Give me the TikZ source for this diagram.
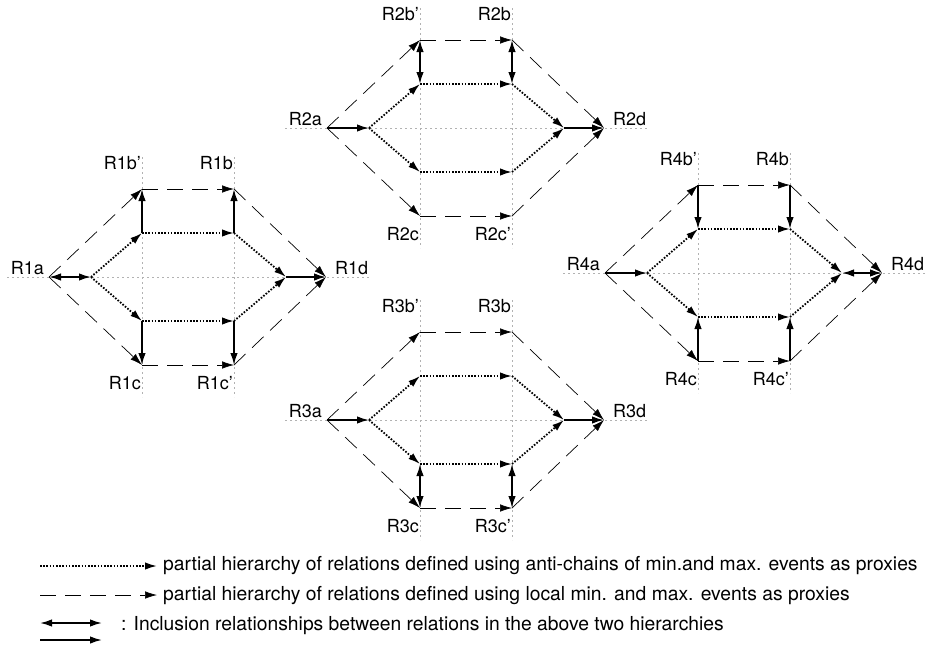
\documentclass[tikz,border=0pt]{standalone}
\usepackage{fontspec}
\setmainfont{TeX Gyre Heros}
\usetikzlibrary{arrows.meta}

\begin{document}
\begin{tikzpicture}[x=1pt,y=-1pt,>={Latex[length=12pt,width=7.5pt]},
  lbl/.style={inner sep=0pt,font=\fontsize{18}{18}\selectfont},
  legtext/.style={inner sep=0pt,anchor=west,font=\fontsize{19.3}{20}\selectfont},
  dashedge/.style={->,line width=0.7pt,dash pattern=on 16pt off 9pt},
  dotedge/.style={->,line width=1.8pt,dash pattern=on 1.6pt off 1.6pt},
  incl/.style={line width=1.7pt},
  guide/.style={black!30,line width=0.4pt,dash pattern=on 2pt off 3pt}]
\useasboundingbox (0,0) rectangle (930,645);
% the four hexagons: outer (dashed) and inner (dotted)
\foreach \i/\x/\y in {1/49/277,2/327/128,3/327/420,4/605/273}{
  \begin{scope}[shift={(\x,\y)}]
  \coordinate (a\i) at (0,0);
  \coordinate (bp\i) at (93,-88);
  \coordinate (b\i) at (185,-88);
  \coordinate (d\i) at (277,0);
  \coordinate (c\i) at (93,88);
  \coordinate (cp\i) at (185,88);
  \coordinate (ia\i) at (42,0);
  \coordinate (ibp\i) at (93,-44);
  \coordinate (ib\i) at (185,-44);
  \coordinate (id\i) at (237,0);
  \coordinate (ic\i) at (93,44);
  \coordinate (icp\i) at (185,44);
  \coordinate (gl\i) at (-42,0);
  \coordinate (gr\i) at (322,0);
  \coordinate (gbt\i) at (93,-120);
  \coordinate (gbb\i) at (93,120);
  \coordinate (gct\i) at (185,-120);
  \coordinate (gcb\i) at (185,120);
  \end{scope}
  \draw[guide] (gl\i) -- (gr\i);
  \draw[guide] (gbt\i) -- (gbb\i);
  \draw[guide] (gct\i) -- (gcb\i);
  \draw[dashedge] (a\i) -- (bp\i);
  \draw[dashedge] (bp\i) -- (b\i);
  \draw[dashedge] (b\i) -- (d\i);
  \draw[dashedge] (a\i) -- (c\i);
  \draw[dashedge] (c\i) -- (cp\i);
  \draw[dashedge] (cp\i) -- (d\i);
  \draw[dotedge] (ia\i) -- (ibp\i);
  \draw[dotedge] (ibp\i) -- (ib\i);
  \draw[dotedge] (ib\i) -- (id\i);
  \draw[dotedge] (ia\i) -- (ic\i);
  \draw[dotedge] (ic\i) -- (icp\i);
  \draw[dotedge] (icp\i) -- (id\i);
  \node[lbl,anchor=south east] (la\i) at ([xshift=-5pt,yshift=2pt]a\i) {R\i a};
  \node[lbl,anchor=south west] (ld\i) at ([xshift=9pt,yshift=2pt]d\i) {R\i d};
  \node[lbl,anchor=south east] (lbp\i) at ([xshift=-1pt,yshift=19pt]bp\i) {R\i b'};
  \node[lbl,anchor=south east] (lb\i) at ([xshift=-1pt,yshift=19pt]b\i) {R\i b};
  \node[lbl,anchor=north east] (lc\i) at ([xshift=-1pt,yshift=-11pt]c\i) {R\i c};
  \node[lbl,anchor=north east] (lcp\i) at ([xshift=-1pt,yshift=-11pt]cp\i) {R\i c'};
}
% inclusion relationships
\draw[incl,<->] (a1) -- (ia1);
\draw[incl,->] (id1) -- (d1);
\draw[incl,->] (ibp1) -- (bp1);
\draw[incl,->] (ib1) -- (b1);
\draw[incl,->] (ic1) -- (c1);
\draw[incl,->] (icp1) -- (cp1);

\draw[incl,->] (a2) -- (ia2);
\draw[incl,->] (id2) -- (d2);
\draw[incl,<->] (ibp2) -- (bp2);
\draw[incl,<->] (ib2) -- (b2);

\draw[incl,->] (a3) -- (ia3);
\draw[incl,->] (id3) -- (d3);
\draw[incl,<->] (ic3) -- (c3);
\draw[incl,<->] (icp3) -- (cp3);

\draw[incl,->] (a4) -- (ia4);
\draw[incl,<->] (id4) -- (d4);
\draw[incl,->] (bp4) -- (ibp4);
\draw[incl,->] (b4) -- (ib4);
\draw[incl,->] (c4) -- (ic4);
\draw[incl,->] (cp4) -- (icp4);

% legend
\coordinate (k1s) at (40,566);
\coordinate (k1e) at (157,566);
\coordinate (k2s) at (40,595);
\coordinate (k2e) at (157,595);
\coordinate (k3s) at (40,623);
\coordinate (k3e) at (102,623);
\coordinate (k4s) at (40,640);
\coordinate (k4e) at (102,640);
\draw[dotedge] (k1s) -- (k1e);
\draw[dashedge] (k2s) -- (k2e);
\draw[incl,<->] (k3s) -- (k3e);
\draw[incl,->] (k4s) -- (k4e);
\node[legtext] (t1) at (163,566) {partial hierarchy of relations defined using anti-chains of min.and max. events as proxies};
\node[legtext] (t2) at (163,596) {partial hierarchy of relations defined using local min. and max. events as proxies};
\node[legtext] (t3) at (121,626) {: Inclusion relationships between relations in the above two hierarchies};
\end{tikzpicture}
\end{document}
